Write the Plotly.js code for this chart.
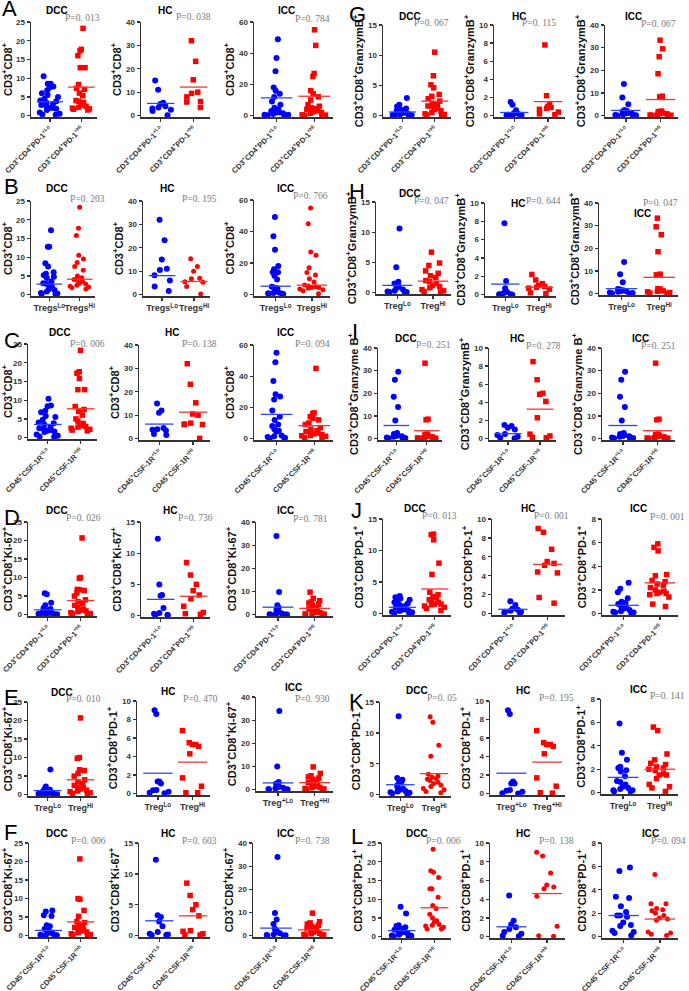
<!DOCTYPE html>
<html><head><meta charset="utf-8">
<script src="https://cdn.plot.ly/plotly-3.0.1.min.js"></script>
<style>html,body{margin:0;padding:0;background:#fff}#chart{width:689px;height:991px}</style>
</head><body><div id="chart"></div>
<script>
// ---------------- DATA ----------------
const cohorts = ['DCC','HC','ICC'];
const panelIds = ['A','B','C','D','E','F','G','H','I','J','K','L'];

// A: CD3+CD8+ by CD3+CD4+PD-1 Lo/Hi
const A_lo = [[10.5,8.5,8.5,7.8,7.5,6.8,6.0,5.5,5.0,4.5,4.0,3.8,3.5,3.0,2.8,2.5,2.0,2.0,1.8,1.5,0.8,0.5,0.3,0.2],
              [15,11,5.5,5,4,3.5,3,2.5,2,0.2],
              [49,37,28.5,18,16,14,12,9,7,5,4,3,2.5,2,2,1.5,1,0.5,0.5,0.3,0.2]];
const A_hi = [[23.3,17.7,17.3,16.0,12.8,12.8,8.3,7.3,7.0,6.0,5.3,4.0,3.8,3.5,2.8,2.5,2.2,2.0,1.8,1.7,1.5],
              [32,23.2,15.3,10,9.5,8,6,5.8,3.5],
              [55,45,27,25,16,14,12,10,7,6,5,4.5,4,3.5,3,2.5,2,1.5,0.5,0.3,0.2,0.1]];
const A_mean = [[3.7,7.6],[5.2,12.2],[11.3,12.4]];
const A_p = ['0. 013','0. 038','0. 784'];

// B: CD3+CD8+ by Tregs Lo/Hi
const B_lo = [[17.2,12.8,12.8,8.4,7.5,6.0,5.6,5.2,4.8,4.4,3.5,3.0,2.8,2.2,1.5,1.2,0.8,0.4,0.3,0.2,0.1],
              [32,23.2,15,11,10.5,8.3,6,3.5,1.5],
              [49.2,37,28.5,18.2,16,14.2,14.2,12,9.5,5,4.5,4,2.2,1.2,1,0.8,0.5,0.3,0.2]];
const B_hi = [[23.3,17.7,15.8,10.5,9.5,8.6,7.5,6.5,5,4.5,4,3.8,3.5,3,2.8,2.5,2.2,2,1.8,1.5],
              [15.3,12,10,7,6.8,5.5,5.3,3.5,0.3],
              [55,45,27,25,17,14,12.5,10,8,6,5.5,5,4.5,4.5,4,3.5,3,2.5,0.5]];
const B_mean = [[2.8,4.1],[8.1,5.6],[5.3,6.0]];
const B_p = ['0. 203','0. 195','0. 766'];

// C: CD3+CD8+ by CD45+CSF-1R Lo/Hi
const C_lo = [[10.4,8.6,8.4,7.2,6.8,5.8,5.5,4.8,4,3.8,3.5,2.8,2.5,2.2,2,1.8,1.6,1.5,0.8,0.5,0.3,0.2],
              [15,12,11,4.5,4,3.8,3.5,2,1.5],
              [55,49,37,28.5,27,25,18,14,12,9,8,6,5,4.5,2,1.5,1,0.5,0.3,0.2]];
const C_hi = [[23.3,17.6,17.2,15.8,12.8,12.8,8.3,7.5,7,6,5,4.4,3.8,3.2,3,2.8,2.5,2.2,2,1.8],
              [32,23.2,15.3,10.5,10,6.6,6.2,6,6,0.1],
              [45,16.5,16,14,13,12,10,9,7,6,5,4.5,4,3.5,3,2.5,2,1.8,1.5,0.5,0.3]];
const C_mean = [[3.5,7.7],[6.2,11.3],[15.5,8.3]];
const C_p = ['0. 006','0. 138','0. 094'];

// D: Ki-67 by PD-1
const D_lo = [[5.8,5.5,3.2,2.5,1.8,1.5,1.2,1,0.8,0.7,0.5,0.4,0.3,0.2,0.2,0.1,0.1,0],
              [12.3,5,3.3,3.2,1.2,0.4,0.3,0.1,0.1,0.1],
              [34,9.8,4,3,2,1.5,1,0.8,0.5,0.3,0.2,0.1,0.1,0.1]];
const D_hi = [[20.7,10,9.8,6.8,6.7,6.5,5.8,5,4,3.5,3,2.5,2,1.5,1.2,1,0.8,0.5,0.3,0.2,0.1],
              [8.5,6.5,5,4,3.3,2.7,1.5,0.5,0.3,0.2],
              [9.7,7,6,5.5,5,4.5,4,3,2.5,2,1.5,1,0.8,0.5,0.3,0.2,0.1,0.1]];
const D_mean = [[1.3,3.8],[2.6,3.1],[3.2,2.7]];
const D_p = ['0. 026','0. 736','0. 781'];

// E: Ki-67 / PD-1 by Treg
const E_lo = [[6.8,2.2,1.5,1.3,1.2,1,0.8,0.7,0.5,0.4,0.3,0.2,0.2,0.1,0.1,0],
              [9,8.6,1.3,1.3,1.1,0.4,0.35,0.2,0.1,0.05],
              [34,10,3.3,2.5,2,1.5,1,0.8,0.5,0.3,0.2,0.1,0.1]];
const E_hi = [[20.7,10,9.8,6.7,6.5,5.7,5,4,3.5,3,2.5,2,1.8,1.5,1.2,1,0.8,0.5,0.3,0.2],
              [6.8,5.5,5.3,5.3,5.1,4.3,1.7,0.8,0.1,0.1],
              [9.8,7,6,5.5,5,4.5,4,3,2.5,2,1.5,1,0.8,0.5,0.3,0.2,0.1]];
const E_mean = [[1.1,4.0],[2.2,3.4],[2.9,3.0]];
const E_p = ['0. 010','0. 470','0. 930'];

// F: Ki-67 by CSF-1R
const F_lo = [[6.8,6.5,5.5,5.3,2.8,2.5,1.8,1.5,1,0.8,0.5,0.3,0.2,0.1,0.1,0],
              [12.3,3.3,3,2.3,1.5,0.6,0.3,0.2,0.1,0.1],
              [34,9.8,7,5,3,2,1.5,1,0.5,0.3,0.2,0.1,0.1]];
const F_hi = [[20.7,10,9.8,6.8,5.2,3.8,3.5,3,2.5,2.2,2,1.5,1.2,1,0.8,0.5,0.3,0.2,0.1],
              [8.5,6.5,5,4.2,3.2,0.8,0.7,0.3,0.1,0.1],
              [9.7,6,5.5,5,4.5,4,3.5,3,2.5,2,1.5,1,0.8,0.5,0.3,0.2,0.1]];
const F_mean = [[1.4,3.7],[2.4,3.2],[3.2,2.5]];
const F_p = ['0. 006','0. 603','0. 738'];

// G: GranzymB by PD-1
const G_lo = [[2.9,1.8,1.5,1.2,1,0.9,0.8,0.6,0.5,0.4,0.3,0.2,0.1,0.1,0.1,0],
              [1.5,1.2,0.6,0.3,0.2,0.1,0.1,0.1,0.05,0],
              [14,8,5,2.5,2,1.8,1.5,1.2,1,0.8,0.5,0.3,0.2,0.1,0.1]];
const G_hi = [[10.5,6.6,5.1,4.6,3.5,3.2,2.8,2.4,2,1.8,1.6,1.5,1.2,1,0.8,0.5,0.3,0.2,0.1,0.1],
              [7.8,2.2,1.2,1,0.9,0.8,0.7,0.4,0.2,0.1],
              [33.3,29.5,26,18.5,8.6,8.3,2,1.8,1.5,1.2,1,0.8,0.5,0.3,0.2,0.1,0.1]];
const G_mean = [[0.6,2.4],[0.35,1.55],[2.3,7.1]];
const G_p = ['0. 067','0. 115','0. 067'];

// H: GranzymB by Treg
const H_lo = [[10.6,4.2,1.8,1.5,1.2,1,0.8,0.5,0.3,0.2,0.1,0.1,0],
              [7.8,1.5,0.7,0.3,0.2,0.1,0.05,0.05,0],
              [14,8.6,5,2,1.8,1.5,1.2,1,0.8,0.5,0.3,0.2,0.1]];
const H_hi = [[6.7,4.9,4.5,3.6,3.2,2.8,2.5,2,1.8,1.5,1.2,1,0.8,0.5,0.3,0.2,0.1],
              [2.2,1.6,1.2,1,0.9,0.8,0.7,0.6,0.2,0.1],
              [33.3,29.5,26,18.5,8.6,8.3,2.2,2,1.5,1.2,1,0.8,0.5,0.3,0.1]];
const H_mean = [[1.2,1.9],[1.15,0.8],[2.2,7.2]];
const H_p = ['0. 047','0. 644','0. 047'];

// I: Granzyme B by CSF-1R
const I_lo = [[29.5,26,18.5,14,8,2.5,2,1.8,1.5,1.2,1,0.8,0.5,0.3,0.2,0.1],
              [1.5,1.4,1.2,1,0.5,0.4,0.2,0.1,0.05],
              [29.5,26,18.5,14,8,2.5,2,1.8,1.5,1.2,1,0.8,0.5,0.3,0.2,0.1]];
const I_hi = [[33.3,8.6,8.3,2,1.8,1.5,1.2,1,0.8,0.5,0.3,0.2,0.1,0.1],
              [8.5,6.5,5,4.9,4.1,2.3,0.5,0.3,0.15,0.1],
              [33.3,8.6,8.3,2,1.8,1.5,1.2,1,0.8,0.5,0.3,0.2,0.1,0.1]];
const I_mean = [[5.8,3.5],[0.55,3.25],[5.8,3.5]];
const I_p = ['0. 251','0. 278','0. 251'];

// J: PD-1 by PD-1
const J_lo = [[2.8,2.6,2.4,2.2,2,1.8,1.6,1.4,1.2,1,0.8,0.7,0.6,0.5,0.4,0.3,0.2,0.1,0.1],
              [1.3,0.9,0.5,0.4,0.3,0.2,0.2,0.1,0.05],
              [2.6,2.1,1.8,1.3,1,0.9,0.8,0.6,0.5,0.4,0.3,0.2,0.15,0.1,0.1,0.05]];
const J_hi = [[12.6,12.5,11.7,8,6.2,3.4,3,2.7,2.5,2.2,2,1.8,1.5,1.5,1.4,1.2,1,0.8,0.5],
              [9,8.6,6.8,5.5,5.3,5.1,4.4,4.3,1.7,1.1],
              [5.9,5.6,5.3,3.3,3.2,2.8,2.7,2.5,2.4,2.2,2,1.9,1.8,1.7,1.7,1.6,1.4,0.8,0.6]];
const J_mean = [[1.0,3.9],[0.45,5.2],[0.7,2.6]];
const J_p = ['0. 013','0. 001','0. 001'];

// K: PD-1 by Treg
const K_lo = [[12.7,2.7,2.4,2.2,2,1.5,1.2,1,0.8,0.6,0.5,0.4,0.3,0.2,0.1],
              [9,8.6,1.3,1.1,1.1,0.4,0.3,0.2,0.05,0],
              [5.9,3.4,2.8,2.2,2.1,1.9,1.8,1.4,1,0.9,0.7,0.5,0.4,0.3,0.2,0.2,0.1,0.1]];
const K_hi = [[12.6,11.7,8,6.2,3.3,3,2.8,2.6,2.5,2.3,2,1.8,1.5,1.3,1,0.8,0.5,0.3],
              [6.8,5.5,5.3,5.3,5.1,4.3,1.7,0.8,0.1,0.05],
              [5.6,5.3,3.3,2.8,2.5,2.4,2.2,2.1,2,1.9,1.6,1.5,1.5,1.2,0.7,0.5,0.4,0.1]];
const K_mean = [[1.6,3.4],[2.2,3.4],[1.3,2.0]];
const K_p = ['0. 05','0. 195','0. 141'];

// L: PD-1 by CSF-1R
const L_lo = [[8,6.2,3,2.8,2.5,2.2,2,1.8,1.5,1.2,1,0.8,0.5,0.3,0.2,0.1,0.1],
              [4.4,1.7,1.3,1,0.8,0.5,0.3,0.1,0.05],
              [5.9,5.6,3.4,3.3,2.6,2.1,1.8,1.8,1.7,1.2,1,0.9,0.5,0.4,0.3,0.1]];
const L_hi = [[23.3,17.6,17.2,15.8,12.8,12.8,10.5,8.3,7.5,6,5,4.2,3.8,3.2,3,2.8,2.5,2,2],
              [9,8.6,6.8,5.5,5.3,5.1,4.3,1.1,0.1,0.05],
              [5.3,2.8,2.8,2.4,2.3,2.2,2,1.8,1.6,1.5,1.4,0.4,0.3,0.2,0.1]];
const L_mean = [[1.6,7.7],[1.05,4.6],[1.8,1.5]];
const L_p = ['0. 006','0. 138','0. 094'];

// axis maxima and tick steps
const yMax  = {A:[25,40,60],B:[25,40,60],C:[25,40,60],D:[25,15,40],E:[25,10,40],F:[25,15,40],
               G:[15,10,40],H:[15,10,40],I:[40,10,40],J:[15,10,8],K:[15,10,8],L:[25,10,8]};
const yStep = {A:[5,10,20],B:[5,10,20],C:[5,10,20],D:[5,5,10],E:[5,2,10],F:[5,5,10],
               G:[5,2,10],H:[5,2,10],I:[10,2,10],J:[5,2,2],K:[5,2,2],L:[5,2,2]};

// text labels
const S = '<sup>+</sup>';
const yCD8 = 'CD3'+S+'CD8'+S;
const yKi = 'CD3'+S+'CD8'+S+'Ki-67'+S;
const yPD = 'CD3'+S+'CD8'+S+'PD-1'+S;
const yGzm = 'CD3'+S+'CD8'+S+'GranzymB'+S;
const yGzme = 'CD3'+S+'CD8'+S+'Granzyme B'+S;
const yTitles = {A:[yCD8,yCD8,yCD8],B:[yCD8,yCD8,yCD8],C:[yCD8,yCD8,yCD8],D:[yKi,yKi,yKi],
  E:[yKi,yPD,yKi],F:[yKi,yKi,yKi],G:[yGzm,yGzm,yGzm],H:[yGzm,yGzm,yGzm],I:[yGzme,yGzm,yGzme],
  J:[yPD,yPD,yPD],K:[yPD,yPD,yPD],L:[yPD,yPD,yPD]};
const xPD = ['CD3'+S+'CD4'+S+'PD-1<sup>+Lo</sup>','CD3'+S+'CD4'+S+'PD-1<sup>+Hi</sup>'];
const xCSF = ['CD45'+S+'CSF-1R<sup>+Lo</sup>','CD45'+S+'CSF-1R<sup>+Hi</sup>'];
const xTregs = ['Tregs<sup>Lo</sup>','Tregs<sup>Hi</sup>'];
const xTreg = ['Treg<sup>Lo</sup>','Treg<sup>Hi</sup>'];
const xTregP = ['Treg<sup>+Lo</sup>','Treg<sup>+Hi</sup>'];
const xLabels = {A:[xPD,xPD,xPD],B:[xTregs,xTregs,xTregs],C:[xCSF,xCSF,xCSF],D:[xPD,xPD,xPD],
  E:[xTreg,xTreg,xTregP],F:[xCSF,xCSF,xCSF],G:[xPD,xPD,xPD],H:[xTreg,xTreg,xTreg],I:[xCSF,xCSF,xCSF],
  J:[xPD,xPD,xPD],K:[xTreg,xTregP,xTreg],L:[xCSF,xCSF,xCSF]};

// ---------------- STYLE / GEOMETRY ----------------
const hiSymbol = {B:['circle','circle','circle'],K:['circle','square','square'],L:['circle','circle','circle']};
const GEO = {
 A:{rows:[[22,117],[22,117],[22,117]], cols:[[31,97],[141,210],[254,333]], t:[[57,11],[165,11],[286,11]], p:[[102,18],[213,17],[332,19]], L:[0,9]},
 B:{rows:[[201,296],[201,296],[200,296]], cols:[[31,95],[143,210],[254,330]], t:[[57,189],[167,189],[285,189]], p:[[107,199],[219,199],[330,196]], L:[2,187]},
 C:{rows:[[344,439],[345,440],[345,440]], cols:[[28,97],[139,210],[254,333]], t:[[60,333],[172,333],[285,333]], p:[[107,344],[219,344],[332,344]], L:[2,340]},
 D:{rows:[[522,616],[522,617],[522,616]], cols:[[28,97],[141,210],[256,333]], t:[[57,511],[170,511],[285,511]], p:[[103,518],[215,518],[330,519]], L:[2,517]},
 E:{rows:[[702,796],[701,795],[697,791]], cols:[[28,97],[137,210],[256,333]], t:[[62,692],[168,691],[293,687]], p:[[103,699],[220,699],[332,699]], L:[2,697]},
 F:{rows:[[843,937],[843,937],[843,937]], cols:[[29,97],[139,210],[253,333]], t:[[57,833],[168,833],[285,833]], p:[[108,841],[219,841],[332,841]], L:[2,832]},
 G:{rows:[[25,117],[25,117],[25,117]], cols:[[383,451],[494,565],[605,678]], t:[[410,17],[519,16],[633,16]], p:[[451,23],[558,23],[678,24]], L:[347,15]},
 H:{rows:[[202,294],[203,296],[203,295]], cols:[[376,451],[485,556],[599,678]], t:[[410,193],[518,203],[642,213]], p:[[451,201],[563,201],[680,203]], L:[347,192]},
 I:{rows:[[348,440],[348,440],[348,440]], cols:[[378,442],[489,556],[602,675]], t:[[406,338],[517,338],[640,338]], p:[[453,345],[563,346],[678,346]], L:[350,331]},
 J:{rows:[[519,615],[519,615],[519,615]], cols:[[383,451],[492,565],[602,678]], t:[[415,508],[528,508],[638,508]], p:[[459,516],[571,516],[687,517]], L:[349,511]},
 K:{rows:[[702,796],[701,795],[699,794]], cols:[[380,451],[490,565],[601,678]], t:[[417,690],[523,690],[638,689]], p:[[459,698],[576,698],[687,696]], L:[347,701]},
 L:{rows:[[843,938],[843,938],[843,938]], cols:[[382,451],[490,565],[602,678]], t:[[417,833],[523,833],[650,833]], p:[[463,841],[576,841],[688,841]], L:[349,836]}
};
const DATA = {A:[A_lo,A_hi,A_mean,A_p],B:[B_lo,B_hi,B_mean,B_p],C:[C_lo,C_hi,C_mean,C_p],D:[D_lo,D_hi,D_mean,D_p],
  E:[E_lo,E_hi,E_mean,E_p],F:[F_lo,F_hi,F_mean,F_p],G:[G_lo,G_hi,G_mean,G_p],H:[H_lo,H_hi,H_mean,H_p],
  I:[I_lo,I_hi,I_mean,I_p],J:[J_lo,J_hi,J_mean,J_p],K:[K_lo,K_hi,K_mean,K_p],L:[L_lo,L_hi,L_mean,L_p]};

const W = 689, H = 991;
const BLUE = '#0000ff', RED = '#ff0000', BLUE_LINE = '#2b44ff', RED_LINE = '#ff3030';
const AX = '#333333';
const SANS = 'Liberation Sans, Arial, sans-serif';
const traces = [];
const layout = {width:W, height:H, margin:{l:0,r:0,t:0,b:0}, showlegend:false,
  paper_bgcolor:'#ffffff', plot_bgcolor:'rgba(0,0,0,0)', font:{family:SANS, color:'#222'},
  boxmode:'overlay', annotations:[]};

let k = 0;
panelIds.forEach(pid => {
  const [lo, hi, mean, pv] = DATA[pid];
  const g = GEO[pid];
  layout.annotations.push({xref:'paper', yref:'paper', x:g.L[0]/W, y:1-g.L[1]/H, xanchor:'left', yanchor:'middle',
    text:pid, showarrow:false, font:{family:SANS, size:22, color:'#000'}});
  for (let c = 0; c < 3; c++) {
    k++;
    const suf = k === 1 ? '' : String(k);
    const xa = 'x'+suf, ya = 'y'+suf;
    const groups = [lo[c], hi[c]];
    const sym = (hiSymbol[pid] || ['square','square','square'])[c];
    groups.forEach((vals, gi) => {
      const isHi = gi === 1;
      traces.push({type:'box', x0:gi, y:vals, xaxis:xa, yaxis:ya, boxpoints:'all', jitter:1, pointpos:0,
        width:0.8, fillcolor:'rgba(0,0,0,0)', line:{width:0, color:'rgba(0,0,0,0)'}, whiskerwidth:0,
        marker:{color: isHi ? RED : BLUE, size: isHi ? (sym==='circle'?5:5.5) : 6, symbol: isHi ? sym : 'circle', line:{width:0}},
        hoverinfo:'skip'});
      traces.push({type:'scatter', mode:'lines', x:[gi-0.42, gi+0.42], y:[mean[c][gi], mean[c][gi]],
        xaxis:xa, yaxis:ya, line:{color: isHi ? RED_LINE : BLUE_LINE, width:1.3}, hoverinfo:'skip', cliponaxis:false});
    });
    const [top, bot] = g.rows[c];
    const [left, right] = g.cols[c];
    const ym = yMax[pid][c];
    const isTreg = xLabels[pid][c][0].indexOf('Treg') === 0;
    layout['xaxis'+suf] = {domain:[left/W, right/W], anchor:ya, type:'linear', range:[-0.6,1.5],
      tickvals:[0,1], ticktext:xLabels[pid][c], tickangle: isTreg ? 0 : -45,
      ticks:'outside', ticklen:3, tickwidth:1.3, tickcolor:AX, showline:true, linewidth:1.5, linecolor:AX,
      showgrid:false, zeroline:false, fixedrange:true, automargin:false,
      tickfont:{family:SANS, size: isTreg ? 9 : 7.5, weight:'bold', color:'#333'}};
    layout['yaxis'+suf] = {domain:[1-bot/H, 1-top/H], anchor:xa, type:'linear', range:[-0.015*ym, ym],
      tick0:0, dtick:yStep[pid][c], ticks:'outside', ticklen:3, tickwidth:1.3, tickcolor:AX,
      showline:true, linewidth:1.5, linecolor:AX, showgrid:false, zeroline:false, fixedrange:true, automargin:false,
      tickfont:{family:SANS, size:8, weight:'bold', color:'#333'},
      title:{text:yTitles[pid][c], standoff:2, font:{family:SANS, size:11, weight:'bold', color:'#111'}}};
    layout.annotations.push({xref:'paper', yref:'paper', x:g.t[c][0]/W, y:1-g.t[c][1]/H, xanchor:'center', yanchor:'middle',
      text:cohorts[c], showarrow:false, font:{family:SANS, size:10, weight:'bold', color:'#000'}});
    layout.annotations.push({xref:'paper', yref:'paper', x:g.p[c][0]/W, y:1-g.p[c][1]/H, xanchor:'right', yanchor:'middle',
      text:'P='+pv[c], showarrow:false, font:{family:'Liberation Serif, Times New Roman, serif', size:9.5, color:'#7a7a7a'}});
  }
});

Plotly.newPlot('chart', traces, layout, {staticPlot:true, displayModeBar:false});
</script>
</body></html>
